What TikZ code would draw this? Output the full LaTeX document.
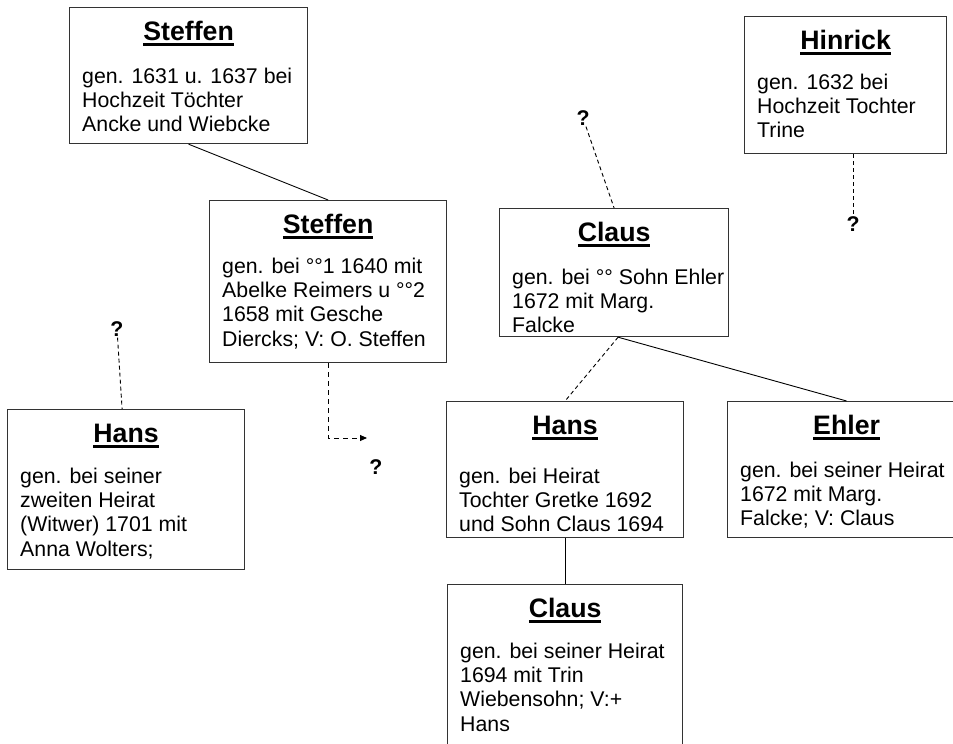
\documentclass[tikz,border=0pt]{standalone}
\usepackage{fontspec}
\setmainfont{Liberation Sans}
\usetikzlibrary{arrows.meta,calc}
\newcommand\ulbold[1]{\setbox0\hbox{\bfseries #1}\rlap{\vrule height -3.2pt depth 5.6pt width \wd0}\box0}
\tikzset{
 personbox/.style={draw=black!80, line width=1.2pt, rectangle, anchor=north west, inner sep=0pt},
 ptitle/.style={anchor=base, inner sep=0pt, font=\fontsize{26.7}{30}\selectfont},
 pbody/.style={anchor=base west, inner sep=0pt, font=\fontsize{21.3}{24.4}\selectfont},
 qmark/.style={font=\bfseries\fontsize{21.3}{24}\selectfont, inner sep=1pt},
 rel/.style={line width=0.9pt},
 unsure/.style={line width=0.9pt, dash pattern=on 4pt off 3pt},
}
\newcommand\Person[8]{%
 \node[personbox, minimum width=#4pt, minimum height=#5pt] (#1) at (#2pt,-#3pt) {};
 \node[ptitle] (#1-t) at ($(#1.north)+(0,-33pt)$) {\ulbold{#6}};
 \node[pbody] (#1-b) at ($(#1.north west)+(13pt,-#7pt)$) {\begin{tabular}[t]{@{}l@{}}#8\end{tabular}};
}
\begin{document}
\begin{tikzpicture}
\useasboundingbox (0,0) rectangle (953pt,-744pt);
\clip (0,0) rectangle (953pt,-744pt);
\fill[white] (0,0) rectangle (953pt,-744pt);

\Person{s1}{69}{7}{238}{136}{Steffen}{76}{gen. 1631 u. 1637 bei\\Hochzeit Töchter\\Ancke und Wiebcke}
\Person{s2}{209}{200}{237}{162}{Steffen}{73}{gen. bei °°1 1640 mit\\Abelke Reimers u °°2\\1658 mit Gesche\\Diercks; V: O. Steffen}
\Person{c1}{499}{208}{229}{128}{Claus}{76}{gen. bei °° Sohn Ehler\\1672 mit Marg.\\Falcke}
\Person{hi}{744}{16}{202}{137}{Hinrick}{73}{gen. 1632 bei\\Hochzeit Tochter\\Trine}
\Person{h1}{7}{409}{237}{160}{Hans}{74}{gen. bei seiner\\zweiten Heirat\\(Witwer) 1701 mit\\Anna Wolters;}
\Person{h2}{446}{401}{237}{136}{Hans}{82}{gen. bei Heirat\\Tochter Gretke 1692\\und Sohn Claus 1694}
\Person{e}{727}{401}{238}{136}{Ehler}{76}{gen. bei seiner Heirat\\1672 mit Marg.\\Falcke; V: Claus}
\Person{c2}{447}{584}{235}{170}{Claus}{74}{gen. bei seiner Heirat\\1694 mit Trin\\Wiebensohn; V:+\\Hans}

\node[qmark] (qs2) at (376pt,-467pt) {?};
\node[qmark] (qc1) at (583pt,-118pt) {?};
\node[qmark] (qhi) at (853pt,-224pt) {?};
\node[qmark] (qh1) at (117pt,-329pt) {?};
\coordinate (s2end) at (367pt,-438pt);

\draw[rel] (s1.south) -- (s2.north);
\draw[unsure, dash pattern=on 5pt off 4pt, -{Triangle[length=7pt,width=6pt]}] (s2.south) |- (s2end);
\draw[unsure] (qc1) -- (c1.north);
\draw[unsure] (qh1) -- ($(h1.north)+(-4pt,0)$);
\draw[unsure] (hi.south -| qhi) -- (qhi);
\draw[unsure] ($(c1.south)+(4pt,0)$) -- (h2.north);
\draw[rel] ($(c1.south)+(4pt,0)$) -- (e.north);
\draw[rel] (h2.south) -- (c2.north);
\end{tikzpicture}
\end{document}
